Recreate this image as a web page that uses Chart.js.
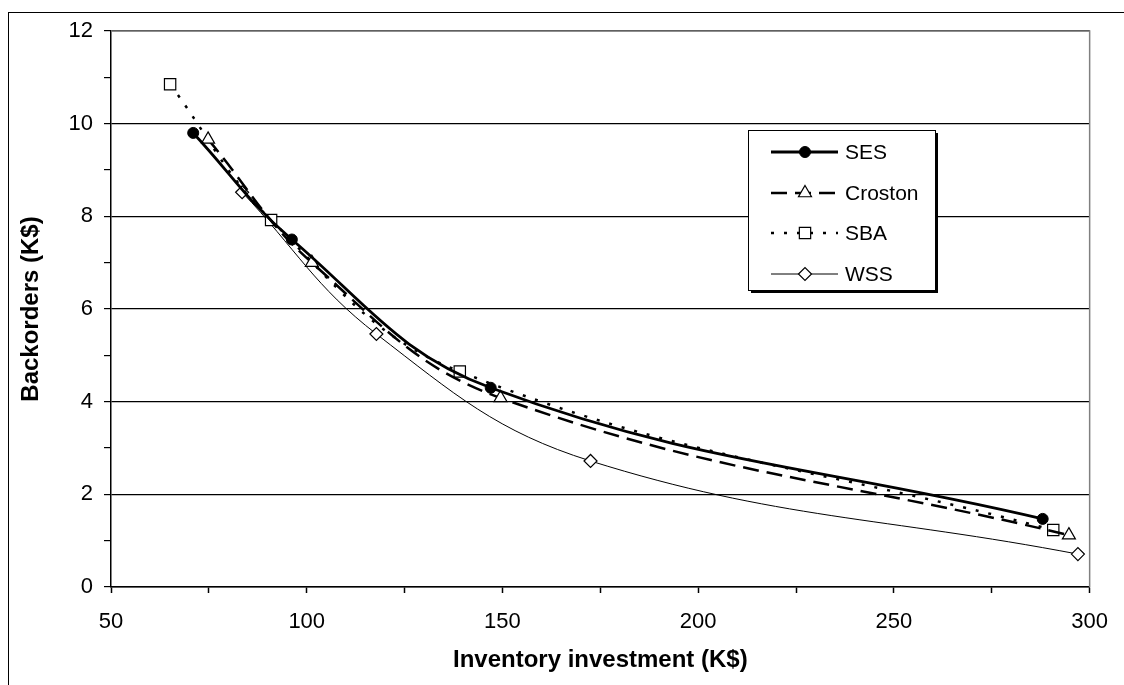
<!DOCTYPE html>
<html>
<head>
<meta charset="utf-8">
<title>Backorders vs inventory investment</title>
<script src="https://cdn.jsdelivr.net/npm/chart.js@4/dist/chart.umd.min.js"></script>
<style>
  html, body { margin: 0; padding: 0; background: #fff; }
  #wrap { position: relative; width: 1124px; height: 685px; overflow: hidden; }
  #frame { position: absolute; left: 8px; top: 12px; width: 1200px; height: 800px;
           border-left: 1.5px solid #000; border-top: 1.5px solid #000; }
  #chart { position: absolute; left: 0; top: 0; }
</style>
</head>
<body>
<div id="wrap">
  <div id="frame"></div>
  <canvas id="chart" width="1124" height="685"></canvas>
</div>
<script>
// Series (x = inventory investment K$, y = backorders K$)
const SERIES_NAMES = ['SES', 'Croston', 'SBA', 'WSS'];
const sesX = [71, 96.2, 147, 288];
const sesY = [9.8, 7.5, 4.3, 1.47];
const crostonX = [74.8, 101.3, 149.5, 294.7];
const crostonY = [9.66, 7.0, 4.08, 1.12];
const sbaX = [65.1, 90.9, 139.1, 290.7];
const sbaY = [10.85, 7.92, 4.65, 1.23];
const wssX = [83.5, 117.8, 172.5, 297];
const wssY = [8.52, 5.46, 2.72, 0.71];

// Axis setup
const X_MIN = 50, X_MAX = 300, X_LABEL_STEP = 50, X_TICK_STEP = 25;
const Y_MIN = 0, Y_MAX = 12, Y_LABEL_STEP = 2, Y_TICK_STEP = 1;
const X_TITLE = 'Inventory investment (K$)';
const Y_TITLE = 'Backorders (K$)';

const FONT = '"Liberation Sans", Arial, sans-serif';

function toPoints(xs, ys) {
    return xs.map((x, i) => ({ x: x, y: ys[i] }));
}

// legend box drawn inside the plot, like the original
const legendBox = {
    id: 'legendBox',
    afterDraw(chart) {
        const ctx = chart.ctx;
        const x0 = 748, y0 = 130, w = 187, h = 160;
        ctx.save();
        // shadow
        ctx.fillStyle = '#000';
        ctx.fillRect(x0 + 3, y0 + 3, w, h);
        ctx.fillStyle = '#fff';
        ctx.fillRect(x0, y0, w, h);
        ctx.strokeStyle = '#000';
        ctx.lineWidth = 1;
        ctx.strokeRect(x0 + 0.5, y0 + 0.5, w, h);

        const rows = [152, 193, 233, 274];
        chart.data.datasets.forEach((ds, i) => {
            const yy = rows[i];
            ctx.save();
            ctx.strokeStyle = ds.borderColor;
            ctx.lineWidth = ds.borderWidth;
            ctx.setLineDash(ds.borderDash || []);
            ctx.beginPath();
            ctx.moveTo(771, yy);
            ctx.lineTo(838, yy);
            ctx.stroke();
            ctx.restore();

            ctx.save();
            ctx.fillStyle = ds.pointBackgroundColor;
            ctx.strokeStyle = ds.pointBorderColor;
            ctx.lineWidth = ds.pointBorderWidth;
            Chart.helpers.drawPoint(ctx, {
                pointStyle: ds.pointStyle,
                radius: ds.pointRadius,
                rotation: 0,
                borderWidth: ds.pointBorderWidth
            }, 805, yy);
            ctx.restore();

            ctx.fillStyle = '#000';
            ctx.font = '21px ' + FONT;
            ctx.textBaseline = 'middle';
            ctx.textAlign = 'left';
            ctx.fillText(ds.label, 845, yy + 1);
        });
        ctx.restore();
    }
};

// grey plot-area border (right side / top)
const plotFrame = {
    id: 'plotFrame',
    beforeDatasetsDraw(chart) {
        const { ctx, chartArea: a } = chart;
        ctx.save();
        ctx.strokeStyle = '#808080';
        ctx.lineWidth = 1.5;
        ctx.beginPath();
        ctx.moveTo(a.left, a.top);
        ctx.lineTo(a.right, a.top);
        ctx.lineTo(a.right, a.bottom);
        ctx.stroke();
        ctx.restore();
    }
};

const datasets = [
    {
        label: SERIES_NAMES[0],
        data: toPoints(sesX, sesY),
        borderColor: '#000',
        borderWidth: 2.8,
        pointStyle: 'circle',
        pointRadius: 5.5,
        pointBackgroundColor: '#000',
        pointBorderColor: '#000',
        pointBorderWidth: 1
    },
    {
        label: SERIES_NAMES[1],
        data: toPoints(crostonX, crostonY),
        borderColor: '#000',
        borderWidth: 2.5,
        borderDash: [16, 8],
        pointStyle: 'triangle',
        pointRadius: 7.5,
        pointBackgroundColor: '#fff',
        pointBorderColor: '#000',
        pointBorderWidth: 1.2
    },
    {
        label: SERIES_NAMES[2],
        data: toPoints(sbaX, sbaY),
        borderColor: '#000',
        borderWidth: 2.5,
        borderDash: [3, 10],
        pointStyle: 'rect',
        pointRadius: 8,
        pointBackgroundColor: '#fff',
        pointBorderColor: '#000',
        pointBorderWidth: 1.2
    },
    {
        label: SERIES_NAMES[3],
        data: toPoints(wssX, wssY),
        borderColor: '#000',
        borderWidth: 1,
        pointStyle: 'rectRot',
        pointRadius: 6.5,
        pointBackgroundColor: '#fff',
        pointBorderColor: '#000',
        pointBorderWidth: 1.2
    }
];

new Chart(document.getElementById('chart').getContext('2d'), {
    type: 'scatter',
    data: { datasets: datasets },
    options: {
        responsive: false,
        animation: false,
        devicePixelRatio: 1,
        showLine: true,
        layout: { padding: { left: 0, top: 31, right: 27, bottom: 0 } },
        elements: { line: { tension: 0.4, fill: false } },
        plugins: {
            legend: { display: false },
            tooltip: { enabled: false }
        },
        scales: {
            x: {
                type: 'linear',
                min: X_MIN,
                max: X_MAX,
                afterFit: (scale) => { scale.height = 98; },
                border: { color: '#000', width: 1.5 },
                grid: {
                    drawOnChartArea: false,
                    drawTicks: true,
                    tickLength: 6,
                    tickColor: '#000',
                    tickWidth: 1.5
                },
                ticks: {
                    stepSize: X_TICK_STEP,
                    color: '#000',
                    padding: 16,
                    maxRotation: 0,
                    autoSkip: false,
                    font: { family: FONT, size: 22 },
                    callback: (v) => (v % X_LABEL_STEP === 0 ? v : '')
                },
                title: {
                    display: true,
                    text: X_TITLE,
                    color: '#000',
                    font: { family: FONT, size: 24, weight: 'bold' },
                    padding: { top: 0, bottom: 10 }
                }
            },
            y: {
                type: 'linear',
                min: Y_MIN,
                max: Y_MAX,
                afterFit: (scale) => { scale.width = 111; },
                border: { color: '#000', width: 1.5 },
                grid: {
                    color: (c) => (c.tick && c.tick.value % Y_LABEL_STEP === 0 ? '#000' : 'rgba(0,0,0,0)'),
                    lineWidth: 1.2,
                    drawTicks: true,
                    tickLength: 7,
                    tickColor: '#000',
                    tickWidth: 1.2
                },
                ticks: {
                    stepSize: Y_TICK_STEP,
                    color: '#000',
                    padding: 11,
                    autoSkip: false,
                    font: { family: FONT, size: 22 },
                    callback: (v) => (v % Y_LABEL_STEP === 0 ? v : '')
                },
                title: {
                    display: true,
                    text: Y_TITLE,
                    color: '#000',
                    font: { family: FONT, size: 24, weight: 'bold' },
                    padding: { top: 17, bottom: 0 }
                }
            }
        }
    },
    plugins: [plotFrame, legendBox]
});
</script>
</body>
</html>
